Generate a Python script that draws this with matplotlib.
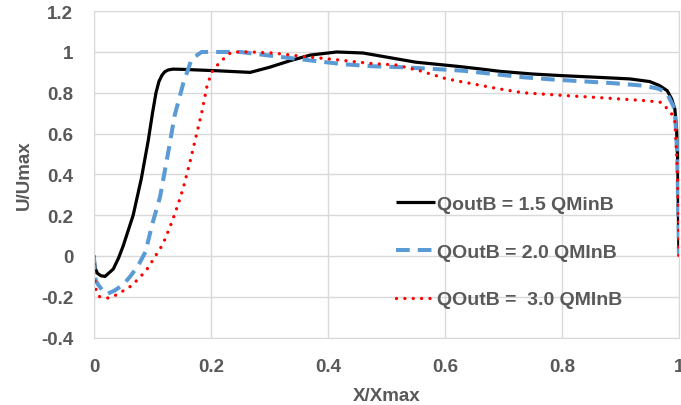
import matplotlib
matplotlib.use("Agg")
import matplotlib.pyplot as plt

# Velocity profiles
x_15 = [0, 0.002, 0.006, 0.012, 0.019, 0.033, 0.042, 0.05, 0.067, 0.081, 0.093,
        0.100, 0.106, 0.111, 0.116, 0.121, 0.127, 0.135, 0.15, 0.21, 0.267, 0.30,
        0.335, 0.37, 0.415, 0.46, 0.55, 0.62, 0.66, 0.694, 0.75, 0.80, 0.86,
        0.916, 0.95, 0.967, 0.98, 0.9875, 0.993, 0.996, 0.998, 0.999, 1.0]
u_15 = [0, -0.06, -0.085, -0.097, -0.10, -0.064, -0.01, 0.05, 0.20, 0.38, 0.57,
        0.70, 0.80, 0.855, 0.885, 0.903, 0.912, 0.916, 0.915, 0.908, 0.90, 0.925,
        0.957, 0.985, 1.0, 0.995, 0.95, 0.93, 0.917, 0.905, 0.892, 0.884, 0.876,
        0.868, 0.855, 0.835, 0.81, 0.77, 0.72, 0.62, 0.45, 0.2, 0.0]

x_20 = [0, 0.001, 0.003, 0.007, 0.015, 0.022, 0.035, 0.05, 0.062, 0.075, 0.088,
        0.1, 0.113, 0.127, 0.138, 0.153, 0.167, 0.184, 0.25, 0.278, 0.324, 0.375,
        0.426, 0.477, 0.529, 0.58, 0.631, 0.683, 0.734, 0.785, 0.836, 0.888,
        0.939, 0.965, 0.979, 0.993, 0.997, 0.999, 1.0]
u_20 = [0, -0.08, -0.12, -0.14, -0.17, -0.186, -0.17, -0.14, -0.10, -0.05, 0.02,
        0.16, 0.29, 0.51, 0.69, 0.85, 0.966, 1.0, 1.0, 0.99, 0.974, 0.957,
        0.94, 0.93, 0.925, 0.917, 0.908, 0.892, 0.876, 0.865, 0.856, 0.847,
        0.835, 0.82, 0.80, 0.72, 0.5, 0.2, 0.0]

x_30 = [0, 0.001, 0.003, 0.006, 0.01, 0.024, 0.039, 0.064, 0.08, 0.093, 0.105,
        0.117, 0.124, 0.134, 0.144, 0.153, 0.164, 0.174, 0.184, 0.193, 0.201,
        0.215, 0.235, 0.267, 0.306, 0.352, 0.415, 0.472, 0.517, 0.557, 0.603,
        0.66, 0.691, 0.734, 0.808, 0.882, 0.945, 0.97, 0.987, 0.993, 0.997,
        0.999, 1.0]
u_30 = [0, -0.1, -0.16, -0.19, -0.2, -0.206, -0.19, -0.146, -0.10, -0.056, 0.0,
        0.054, 0.10, 0.173, 0.255, 0.337, 0.46, 0.58, 0.70, 0.83, 0.90,
        0.95, 1.0, 1.0, 0.995, 0.98, 0.962, 0.944, 0.936, 0.908, 0.868,
        0.837, 0.82, 0.80, 0.786, 0.773, 0.761, 0.753, 0.70, 0.66, 0.45,
        0.2, 0.0]

labels = ["QoutB = 1.5 QMinB", "QOutB = 2.0 QMInB", "QOutB =  3.0 QMInB"]
x_ticks = [0, 0.2, 0.4, 0.6, 0.8, 1]
x_tick_labels = ["0", "0.2", "0.4", "0.6", "0.8", "1"]
y_ticks = [-0.4, -0.2, 0, 0.2, 0.4, 0.6, 0.8, 1, 1.2]
y_tick_labels = ["-0.4", "-0.2", "0", "0.2", "0.4", "0.6", "0.8", "1", "1.2"]

plt.rcParams['font.family'] = ['Liberation Sans', 'DejaVu Sans']
plt.rcParams['font.weight'] = 'bold'
plt.rcParams['axes.labelweight'] = 'bold'
grey = '#595959'

fig = plt.figure(figsize=(6.81, 4.06), dpi=100)
ax = fig.add_axes([0.138, 0.166, 0.859, 0.804])

ax.plot(x_15, u_15, color='black', lw=2.3, label=labels[0], solid_capstyle='butt')
ax.plot(x_20, u_20, color='#5b9bd5', lw=2.9, linestyle=(0, (3.4, 2.0)),
        label=labels[1])
ax.plot(x_30, u_30, color='#ff0000', lw=2.4, linestyle=(0, (0.01, 2.5)),
        dash_capstyle='round', label=labels[2])

ax.set_xlim(0, 1)
ax.set_ylim(-0.4, 1.2)
ax.set_xticks(x_ticks, x_tick_labels)
ax.set_yticks(y_ticks, y_tick_labels)
ax.grid(True, color='#d9d9d9', lw=1)
ax.set_axisbelow(True)
for s in ax.spines.values():
    s.set_color('#d9d9d9')
ax.tick_params(length=0, labelsize=13.5, colors=grey, pad=15)
for t in ax.get_xticklabels() + ax.get_yticklabels():
    t.set_fontweight('bold')

ax.set_xlabel('X/Xmax', fontsize=13.5, color=grey, labelpad=8, fontweight='bold')
ax.set_ylabel('U/Umax', fontsize=13.5, color=grey, labelpad=6, fontweight='bold')

leg = ax.legend(loc='upper left', bbox_to_anchor=(0.503, 0.46), frameon=False,
                fontsize=14, labelcolor=grey, handlelength=2.0, handletextpad=0.12,
                labelspacing=1.55, borderaxespad=0)
for t in leg.get_texts():
    t.set_fontweight('bold')

fig.savefig('out.png', dpi=100)
